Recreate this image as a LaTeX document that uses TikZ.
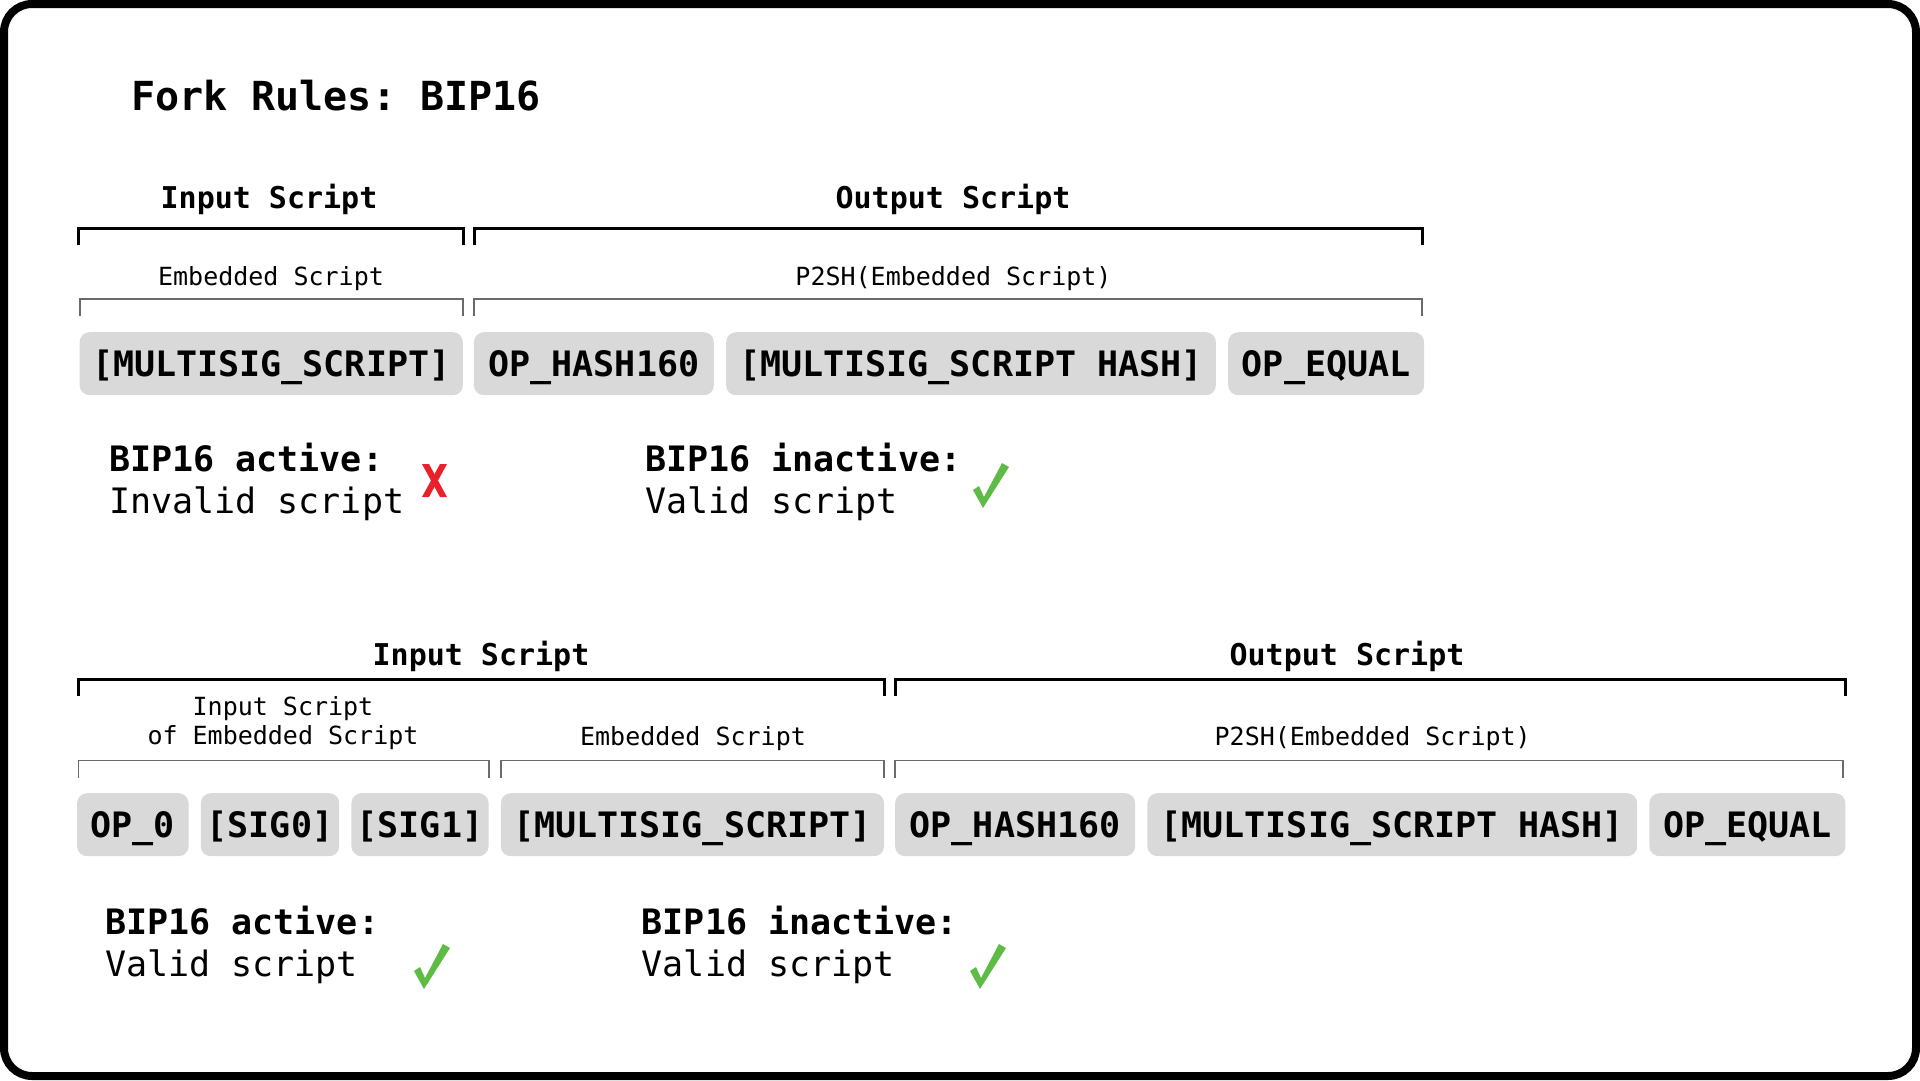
\documentclass[tikz,border=0pt]{standalone}
\usepackage{fontspec}
\setmainfont{DejaVu Sans Mono}
\frenchspacing
\definecolor{boxgray}{HTML}{D9D9D9}
\definecolor{thingray}{HTML}{6A6A6A}
\definecolor{okgreen}{HTML}{5DBB46}
\definecolor{badred}{HTML}{E8212A}
\tikzset{
  opbox/.style={fill=boxgray, rounded corners=10pt, minimum height=63pt, inner sep=0pt, text height=25.5pt, text depth=0pt, font=\fontsize{35}{42}\selectfont\bfseries},
  head/.style={inner sep=0pt, font=\fontsize{30}{36}\selectfont\bfseries},
  sub/.style={inner sep=0pt, font=\fontsize{25}{30}\selectfont},
  statb/.style={inner sep=0pt, anchor=west, font=\fontsize{35}{42}\selectfont\bfseries},
  statr/.style={inner sep=0pt, anchor=west, font=\fontsize{35}{42}\selectfont},
  bigbr/.style={line width=3pt},
  thinbr/.style={line width=1.8pt, draw=thingray},
  checkmark/.pic={\fill[okgreen] (0,27) -- (6,23) -- (11,34) -- (29,0) -- (36,4) -- (10,45) -- cycle;},
  crossmark/.pic={\fill[badred] (0,0) -- (7,0) -- (25,33) -- (18,33) -- cycle;
                  \fill[badred] (18,0) -- (25,0) -- (7,33) -- (0,33) -- cycle;}
}
\begin{document}
\begin{tikzpicture}[x=1pt,y=-1pt]
\useasboundingbox (0,0) rectangle (1920,1080);
\draw[line width=8pt, rounded corners=28pt] (4,4) rectangle (1916,1076);

% title
\node[inner sep=0pt, anchor=west, font=\fontsize{40}{48}\selectfont\bfseries] (title) at (131,96) {Fork Rules: BIP16};

% ---------- section 1 ----------
\node[head] (in1) at (269,199.5) {Input Script};
\node[head] (out1) at (953,199.5) {Output Script};
\draw[bigbr] (78,245) -- (78,228) -- (463,228) -- (463,245);
\draw[bigbr] (474,245) -- (474,228) -- (1422,228) -- (1422,245);
\node[sub] (emb1) at (271,278.5) {Embedded Script};
\node[sub] (p2sh1) at (953.5,278.5) {P2SH(Embedded Script)};
\draw[thinbr] (79.6,316) -- (79.6,299) -- (463,299) -- (463,316);
\draw[thinbr] (474,316) -- (474,299) -- (1422,299) -- (1422,316);

\node[opbox, minimum width=383.3pt] (a1) at (271.25,363.7) {[MULTISIG\_SCRIPT]};
\node[opbox, minimum width=240pt] (a2) at (593.9,363.7) {OP\_HASH160};
\node[opbox, minimum width=489.8pt] (a3) at (971,363.7) {[MULTISIG\_SCRIPT HASH]};
\node[opbox, minimum width=195.9pt] (a4) at (1326.15,363.7) {OP\_EQUAL};

\node[statb] (s1a) at (109,458) {BIP16 active:};
\node[statr] (s1b) at (109,504) {Invalid script};
\pic at (422,464) {crossmark};
\node[statb] (s2a) at (645,458) {BIP16 inactive:};
\node[statr] (s2b) at (645,504) {Valid script};
\pic at (973,463) {checkmark};

% ---------- section 2 ----------
\node[head] (in2) at (481,656.5) {Input Script};
\node[head] (out2) at (1347,656.5) {Output Script};
\draw[bigbr] (78.4,695.5) -- (78.4,679.6) -- (884.1,679.6) -- (884.1,695.5);
\draw[bigbr] (895.1,695.5) -- (895.1,679.6) -- (1845.3,679.6) -- (1845.3,695.5);
\node[sub, align=center] (ies) at (283,723.5) {Input Script\\[-1pt]of Embedded Script};
\node[sub] (emb2) at (693,738.5) {Embedded Script};
\node[sub] (p2sh2) at (1372.7,738.5) {P2SH(Embedded Script)};
\draw[thinbr] (78.4,777.6) -- (78.4,760.4) -- (488.6,760.4) -- (488.6,777.6);
\draw[thinbr] (500.8,777.6) -- (500.8,760.4) -- (884.1,760.4) -- (884.1,777.6);
\draw[thinbr] (895.1,777.6) -- (895.1,760.4) -- (1842.9,760.4) -- (1842.9,777.6);

\node[opbox, minimum width=111.5pt] (b1) at (132.85,824.7) {OP\_0};
\node[opbox, minimum width=138.4pt] (b2) at (270,824.7) {[SIG0]};
\node[opbox, minimum width=137.2pt] (b3) at (420,824.7) {[SIG1]};
\node[opbox, minimum width=383.3pt] (b4) at (692.45,824.7) {[MULTISIG\_SCRIPT]};
\node[opbox, minimum width=240pt] (b5) at (1015.1,824.7) {OP\_HASH160};
\node[opbox, minimum width=489.8pt] (b6) at (1392.3,824.7) {[MULTISIG\_SCRIPT HASH]};
\node[opbox, minimum width=195.9pt] (b7) at (1747.35,824.7) {OP\_EQUAL};

\node[statb] (s3a) at (105,921) {BIP16 active:};
\node[statr] (s3b) at (105,967) {Valid script};
\pic at (414,944) {checkmark};
\node[statb] (s4a) at (641.6,921) {BIP16 inactive:};
\node[statr] (s4b) at (641.6,967) {Valid script};
\pic at (970,944) {checkmark};
\end{tikzpicture}
\end{document}
